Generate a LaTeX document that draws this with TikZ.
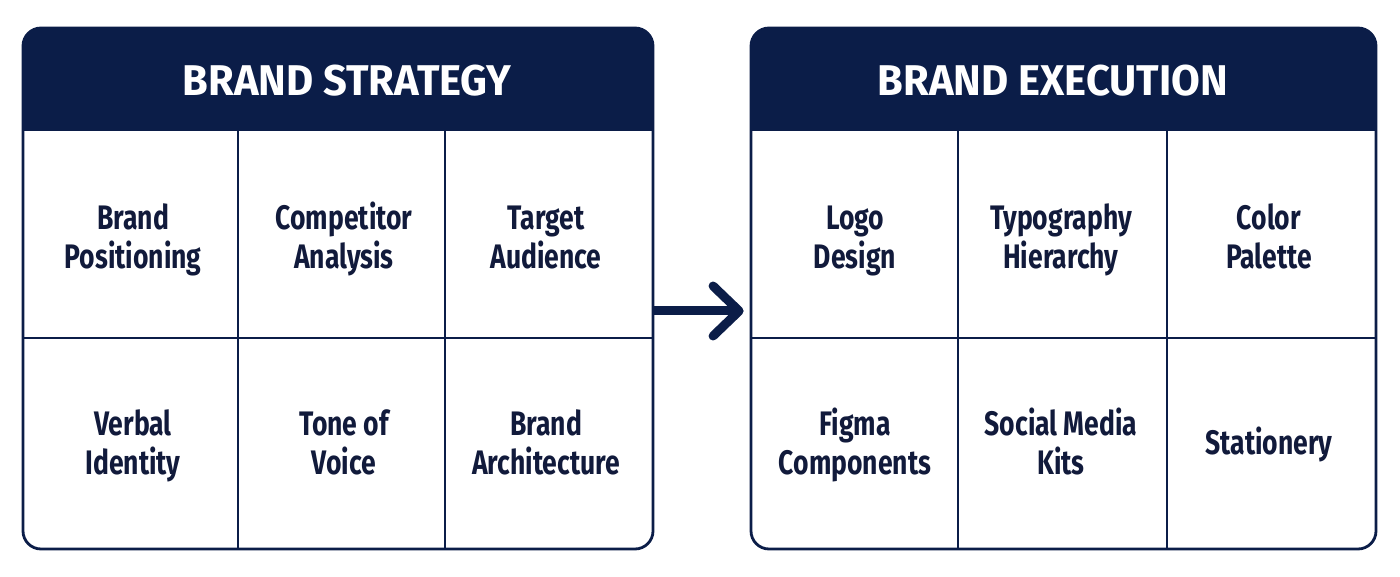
\documentclass[tikz,border=0pt]{standalone}
\usepackage{fontspec}
\setmainfont{Fira Sans}
\newfontfamily\bodyfont{Fira Sans}[FakeStretch=0.78]
\newfontfamily\titlefont{Fira Sans}[FakeStretch=0.97]
\usetikzlibrary{arrows.meta}
\definecolor{navy}{HTML}{0B1D48}
\definecolor{ink}{HTML}{111A3B}
\newcommand\cl[1]{\rule[-8pt]{0pt}{36pt}#1}
\tikzset{
  panel/.style={draw=navy, line width=2.8pt, rounded corners=18pt, minimum width=630pt, minimum height=521pt, inner sep=0pt},
  grid/.style={draw=navy, line width=2pt},
  cell/.style={text=ink, align=center, inner sep=0pt, font=\bodyfont\bfseries\fontsize{34}{39}\selectfont},
  title/.style={text=white, font=\titlefont\bfseries\fontsize{43}{48}\selectfont},
  flow/.style={draw=navy, line width=9pt, -{Straight Barb[length=26pt,width=50pt,round]}}
}
\begin{document}
\begin{tikzpicture}[x=1pt,y=-1pt]
\useasboundingbox (0,0) rectangle (1400,577);
% left panel
\fill[navy] (23,130) {[rounded corners=18pt] -- (23,28) -- (653,28)} -- (653,130) -- cycle;
\node[panel] (L) at (338,288.5) {};
\draw[grid] (23,130) -- (653,130);
\draw[grid] (23,338) -- (653,338);
\draw[grid] (238,130) -- (238,549);
\draw[grid] (445,130) -- (445,549);
\node[title] (Lt) at (347,81) {BRAND STRATEGY};
\node[cell] (l1) at (133,239.5) {\cl{Brand}\\\cl{Positioning}};
\node[cell] (l2) at (344,239.5) {\cl{Competitor}\\\cl{Analysis}};
\node[cell] (l3) at (546,239.5) {\cl{Target}\\\cl{Audience}};
\node[cell] (l4) at (133,444.5) {\cl{Verbal}\\\cl{Identity}};
\node[cell] (l5) at (344,444.5) {\cl{Tone of}\\\cl{Voice}};
\node[cell] (l6) at (546,444.5) {\cl{Brand}\\\cl{Architecture}};
% right panel
\fill[navy] (751,130) {[rounded corners=18pt] -- (751,28) -- (1376,28)} -- (1376,130) -- cycle;
\node[panel, minimum width=625pt] (R) at (1063.5,288.5) {};
\draw[grid] (751,130) -- (1376,130);
\draw[grid] (751,338) -- (1376,338);
\draw[grid] (958,130) -- (958,549);
\draw[grid] (1167,130) -- (1167,549);
\node[title] (Rt) at (1053,81) {BRAND EXECUTION};
\node[cell] (r1) at (855,239.5) {\cl{Logo}\\\cl{Design}};
\node[cell] (r2) at (1061,239.5) {\cl{Typography}\\\cl{Hierarchy}};
\node[cell] (r3) at (1269,239.5) {\cl{Color}\\\cl{Palette}};
\node[cell] (r4) at (855,444.5) {\cl{Figma}\\\cl{Components}};
\node[cell] (r5) at (1061,444.5) {\cl{Social Media}\\\cl{Kits}};
\node[cell] (r6) at (1269,444.5) {\cl{Stationery}};
% arrow
\draw[flow] (L.east |- 0,311) -- ([xshift=-6pt]R.west |- 0,311);
\end{tikzpicture}
\end{document}
